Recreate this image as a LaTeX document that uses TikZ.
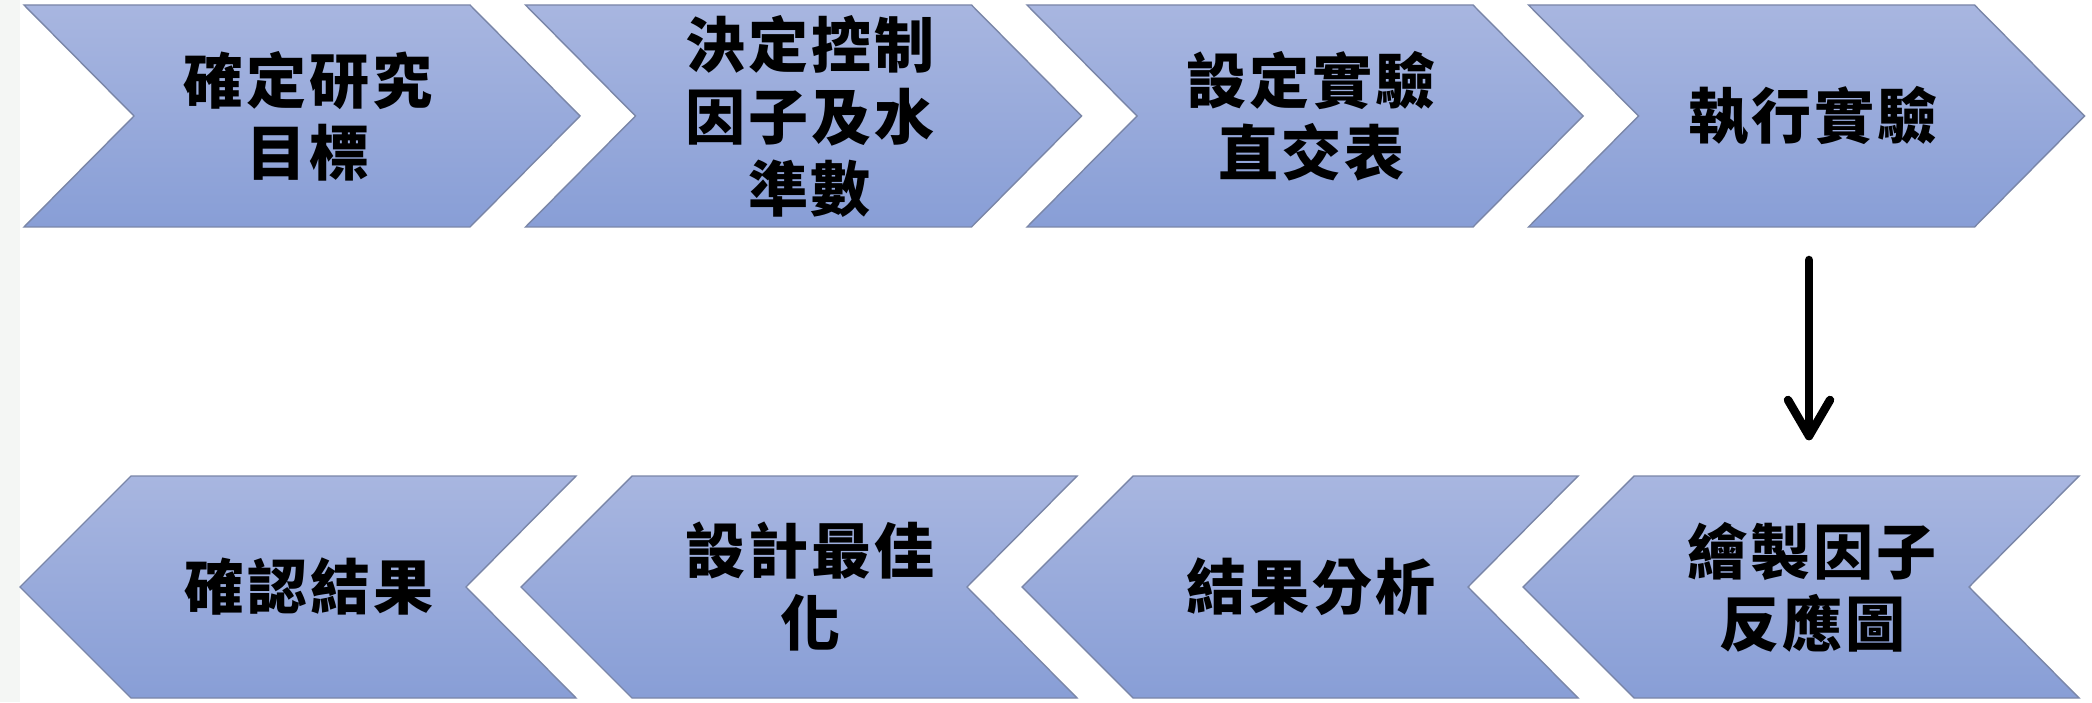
\documentclass[tikz,border=0pt]{standalone}
\usepackage{fontspec}
\newfontfamily\cjk{Noto Sans CJK TC}[LetterSpace=5]
\definecolor{chevtop}{HTML}{A8B6E0}
\definecolor{chevbot}{HTML}{889ED6}
\definecolor{chevline}{HTML}{7A86A8}
\definecolor{stripgray}{HTML}{F4F6F4}
\tikzset{
  chev/.style={draw=chevline, line width=1.4pt, top color=chevtop, bottom color=chevbot, line join=miter},
  lbl/.style={inner sep=0pt, align=center, font=\cjk\bfseries\fontsize{60}{72}\selectfont},
  flowline/.style={line width=8.5pt, line cap=round, line join=round}
}
\newcommand\chevR[3]{%
  \draw[chev] (#1,697) -- ++(446,0) -- ++(110,-111) -- ++(-110,-111) -- ++(-446,0) -- ++(110,111) -- cycle;
  \node[lbl] (#2) at (#1+284,586) {#3};}
\newcommand\chevL[3]{%
  \draw[chev] (#1,115) -- ++(111,111) -- ++(445,0) -- ++(-110,-111) -- ++(110,-111) -- ++(-445,0) -- cycle;
  \node[lbl] (#2) at (#1+289,115) {#3};}
\begin{document}
\begin{tikzpicture}[x=1pt,y=1pt]
\useasboundingbox (0,0) rectangle (2092,702);
\fill[white] (0,0) rectangle (2092,702);
\fill[stripgray] (0,0) rectangle (20,702);
\chevR{24}{s1}{確定研究\\目標}
\chevR{525.5}{s2}{決定控制\\因子及水\\準數}
\chevR{1027}{s3}{設定實驗\\直交表}
\chevR{1528.5}{s4}{執行實驗}
\chevL{1523}{s5}{繪製因子\\反應圖}
\chevL{1022}{s6}{結果分析}
\chevL{521}{s7}{設計最佳\\化}
\chevL{20}{s8}{確認結果}
\coordinate (arrtop) at (1809,442);
\coordinate (arrbot) at (1809,266);
\draw[flowline] (arrtop) -- (arrbot);
\draw[flowline] ([shift={(-21,36)}]arrbot) -- (arrbot) -- ([shift={(21,36)}]arrbot);
\end{tikzpicture}
\end{document}
